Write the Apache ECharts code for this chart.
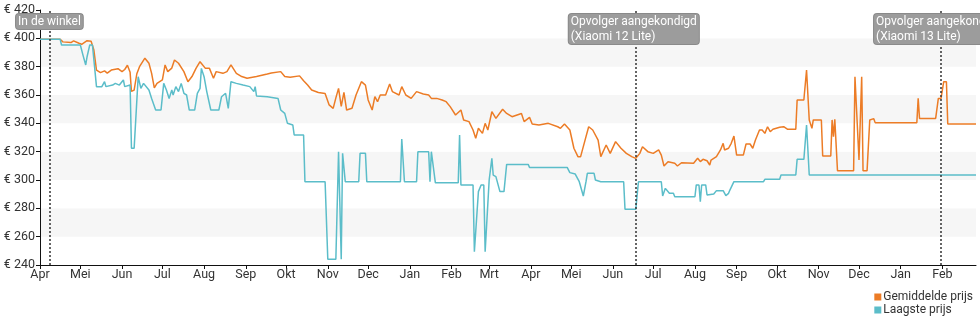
<!DOCTYPE html>
<html>
<head>
<meta charset="utf-8">
<script src="https://cdn.jsdelivr.net/npm/echarts@6/dist/echarts.min.js"></script>
<style>
  html, body { margin: 0; padding: 0; background: #fff; }
  #chart { width: 980px; height: 325px; }
</style>
</head>
<body>
<div id="chart"></div>
<script>
// Dutch month abbreviations for the date axis
const monthNames = ['Jan', 'Feb', 'Mrt', 'Apr', 'Mei', 'Jun', 'Jul', 'Aug', 'Sep', 'Okt', 'Nov', 'Dec'];

const axisStart = '2021-04-01';
const axisEnd = '2023-02-26';
const priceMin = 240;
const priceMax = 420;
const priceStep = 20;

const seriesNames = ['Gemiddelde prijs', 'Laagste prijs'];

// Average price per day (EUR)
const avgPrice = [
  ['2021-04-01', 399.3], ['2021-04-16', 399.3], ['2021-04-18', 397.5], ['2021-04-24', 397],
  ['2021-04-26', 398.2], ['2021-04-30', 396.5], ['2021-05-02', 395.8], ['2021-05-06', 398.3],
  ['2021-05-09', 398], ['2021-05-11', 392], ['2021-05-13', 377.6], ['2021-05-16', 375.8],
  ['2021-05-19', 377], ['2021-05-21', 375.5], ['2021-05-24', 377.6], ['2021-05-29', 378.6],
  ['2021-06-01', 376.5], ['2021-06-03', 378], ['2021-06-05', 381], ['2021-06-07', 376],
  ['2021-06-08', 362.5], ['2021-06-10', 363.5], ['2021-06-12', 375], ['2021-06-14', 380],
  ['2021-06-18', 386], ['2021-06-21', 382.4], ['2021-06-23', 375.3], ['2021-06-25', 365],
  ['2021-06-27', 368.2], ['2021-07-01', 370.6], ['2021-07-03', 381.2], ['2021-07-05', 376.5],
  ['2021-07-08', 379], ['2021-07-10', 384.7], ['2021-07-13', 382.4], ['2021-07-17', 376.5],
  ['2021-07-20', 369.4], ['2021-07-23', 373], ['2021-07-26', 378.8], ['2021-07-29', 383.5],
  ['2021-08-02', 378.8], ['2021-08-05', 378.8], ['2021-08-08', 371.8], ['2021-08-10', 376.5],
  ['2021-08-15', 375.3], ['2021-08-18', 376.5], ['2021-08-21', 381.2], ['2021-08-25', 375.3],
  ['2021-08-29', 373], ['2021-09-02', 371.8], ['2021-09-09', 373], ['2021-09-17', 374.8],
  ['2021-09-20', 375.5], ['2021-09-27', 376.5], ['2021-09-30', 373], ['2021-10-04', 372.5],
  ['2021-10-11', 373.5], ['2021-10-14', 370], ['2021-10-17', 367], ['2021-10-20', 363.5],
  ['2021-10-25', 361.8], ['2021-10-30', 361], ['2021-11-02', 353], ['2021-11-05', 350.6],
  ['2021-11-07', 358], ['2021-11-09', 364.7], ['2021-11-11', 352], ['2021-11-13', 361.8],
  ['2021-11-15', 349.4], ['2021-11-19', 350.6], ['2021-11-22', 360], ['2021-11-26', 369.4],
  ['2021-11-29', 367], ['2021-12-01', 356.5], ['2021-12-04', 349.4], ['2021-12-06', 358.8],
  ['2021-12-08', 355.3], ['2021-12-10', 360], ['2021-12-14', 360], ['2021-12-17', 367.8],
  ['2021-12-19', 362.4], ['2021-12-24', 360], ['2021-12-26', 365.9], ['2021-12-29', 360],
  ['2022-01-02', 357.6], ['2022-01-06', 362.4], ['2022-01-11', 360.7], ['2022-01-15', 360],
  ['2022-01-17', 357.6], ['2022-01-21', 357.6], ['2022-01-25', 356.5], ['2022-01-28', 355.3],
  ['2022-01-31', 351.8], ['2022-02-04', 345.9], ['2022-02-08', 349.4], ['2022-02-10', 342.4],
  ['2022-02-14', 341.2], ['2022-02-17', 335.3], ['2022-02-19', 329.4], ['2022-02-21', 336.5],
  ['2022-02-24', 332.9], ['2022-02-26', 340], ['2022-02-28', 335.3], ['2022-03-03', 348.2],
  ['2022-03-06', 343.5], ['2022-03-11', 349.9], ['2022-03-14', 347], ['2022-03-18', 344.7],
  ['2022-03-25', 347], ['2022-03-27', 341.2], ['2022-03-31', 344.2], ['2022-04-02', 339.5],
  ['2022-04-07', 338.8], ['2022-04-14', 340], ['2022-04-21', 337.6], ['2022-04-23', 336.5],
  ['2022-04-26', 339.5], ['2022-04-30', 335.3], ['2022-05-03', 322.4], ['2022-05-06', 316.5],
  ['2022-05-08', 316.5], ['2022-05-12', 330.6], ['2022-05-14', 337.6], ['2022-05-17', 335.3],
  ['2022-05-21', 328.2], ['2022-05-23', 316.5], ['2022-05-27', 324.7], ['2022-05-30', 318.8],
  ['2022-06-03', 327.1], ['2022-06-07', 322.4], ['2022-06-11', 318.8], ['2022-06-15', 316.5],
  ['2022-06-18', 315.3], ['2022-06-21', 318.8], ['2022-06-23', 323.5], ['2022-06-27', 320],
  ['2022-07-01', 318.8], ['2022-07-05', 321.2], ['2022-07-07', 317.6], ['2022-07-09', 309.9],
  ['2022-07-12', 312.9], ['2022-07-17', 311.8], ['2022-07-19', 309.9], ['2022-07-22', 312.2],
  ['2022-07-31', 311.8], ['2022-08-03', 315.3], ['2022-08-05', 313], ['2022-08-07', 314.6],
  ['2022-08-10', 313.6], ['2022-08-12', 310.6], ['2022-08-13', 314.1], ['2022-08-17', 316.5],
  ['2022-08-20', 321.2], ['2022-08-22', 325.9], ['2022-08-23', 321.2], ['2022-08-26', 322.4],
  ['2022-08-28', 325.9], ['2022-08-30', 331], ['2022-09-01', 317.6], ['2022-09-06', 317.6],
  ['2022-09-08', 325.4], ['2022-09-11', 325.4], ['2022-09-13', 322.4], ['2022-09-15', 328.2],
  ['2022-09-18', 335.3], ['2022-09-20', 335.3], ['2022-09-22', 332.9], ['2022-09-24', 337.6],
  ['2022-09-26', 334.1], ['2022-09-28', 335.8], ['2022-10-03', 337.2], ['2022-10-06', 337.6],
  ['2022-10-09', 335.8], ['2022-10-15', 335.8], ['2022-10-16', 356.5], ['2022-10-21', 356.5],
  ['2022-10-23', 377.6], ['2022-10-24', 377.6], ['2022-10-25', 342.4], ['2022-10-27', 336.5],
  ['2022-10-28', 342.4], ['2022-11-03', 342.4], ['2022-11-04', 317], ['2022-11-10', 317],
  ['2022-11-11', 342.4], ['2022-11-12', 330.6], ['2022-11-13', 342.8], ['2022-11-15', 306.6],
  ['2022-11-27', 306.6], ['2022-11-28', 372.9], ['2022-11-29', 372.9], ['2022-12-01', 314.1],
  ['2022-12-02', 314.1], ['2022-12-03', 372.9], ['2022-12-04', 306.6], ['2022-12-07', 306.6],
  ['2022-12-09', 342.4], ['2022-12-12', 343.3], ['2022-12-13', 340.5], ['2023-01-13', 340.5],
  ['2023-01-14', 357.6], ['2023-01-15', 343.5], ['2023-01-27', 343.5], ['2023-01-29', 357.6],
  ['2023-01-31', 357.6], ['2023-02-02', 369.4], ['2023-02-04', 369.4], ['2023-02-05', 339.5],
  ['2023-02-26', 339.5]
];

// Lowest price per day (EUR)
const lowPrice = [
  ['2021-04-01', 399.3], ['2021-04-16', 399.3], ['2021-04-17', 395.3], ['2021-05-01', 395.3],
  ['2021-05-03', 388], ['2021-05-05', 381.2], ['2021-05-06', 387], ['2021-05-08', 395.3],
  ['2021-05-10', 395.3], ['2021-05-13', 365.9], ['2021-05-17', 365.9], ['2021-05-19', 369.4],
  ['2021-05-20', 365.9], ['2021-05-25', 367], ['2021-05-27', 368.2], ['2021-05-30', 367],
  ['2021-06-02', 370.6], ['2021-06-03', 365.9], ['2021-06-07', 367], ['2021-06-08', 322.4],
  ['2021-06-10', 322.4], ['2021-06-13', 372.9], ['2021-06-15', 364.7], ['2021-06-17', 368.2],
  ['2021-06-21', 363.5], ['2021-06-23', 357.6], ['2021-06-26', 349.4], ['2021-06-30', 349.4],
  ['2021-07-02', 368.2], ['2021-07-04', 363.5], ['2021-07-06', 357.6], ['2021-07-08', 363.5],
  ['2021-07-09', 360], ['2021-07-11', 365.9], ['2021-07-13', 362.4], ['2021-07-15', 368.2],
  ['2021-07-17', 361.2], ['2021-07-19', 360], ['2021-07-21', 349.4], ['2021-07-25', 349.4],
  ['2021-07-27', 361.2], ['2021-07-29', 364.7], ['2021-07-30', 378.8], ['2021-08-01', 372.9],
  ['2021-08-03', 362.4], ['2021-08-06', 349.4], ['2021-08-12', 349.4], ['2021-08-14', 358.8],
  ['2021-08-17', 361.2], ['2021-08-19', 350.6], ['2021-08-21', 369.4], ['2021-08-25', 368.2],
  ['2021-08-30', 367], ['2021-09-04', 365.9], ['2021-09-07', 362.4], ['2021-09-08', 365.9],
  ['2021-09-09', 359.3], ['2021-09-17', 358.8], ['2021-09-25', 357.6], ['2021-09-27', 349.4],
  ['2021-09-30', 347], ['2021-10-02', 340], ['2021-10-06', 338.8], ['2021-10-07', 331.8],
  ['2021-10-14', 331.8], ['2021-10-15', 298.8], ['2021-10-30', 298.8], ['2021-11-01', 244],
  ['2021-11-07', 244], ['2021-11-09', 320], ['2021-11-10', 320], ['2021-11-11', 244],
  ['2021-11-12', 318.8], ['2021-11-13', 318.8], ['2021-11-14', 298.8], ['2021-11-24', 298.8],
  ['2021-11-25', 318.8], ['2021-11-29', 318.8], ['2021-11-30', 298.8], ['2021-12-25', 298.8],
  ['2021-12-26', 328.9], ['2021-12-27', 328.9], ['2021-12-28', 298.8], ['2022-01-06', 298.8],
  ['2022-01-07', 320], ['2022-01-15', 320], ['2022-01-16', 298.8], ['2022-01-17', 320],
  ['2022-01-18', 320], ['2022-01-20', 298], ['2022-02-06', 298], ['2022-02-07', 331.8],
  ['2022-02-08', 296.5], ['2022-02-17', 296.5], ['2022-02-18', 249.4], ['2022-02-19', 249.4],
  ['2022-02-21', 291.8], ['2022-02-23', 296.5], ['2022-02-25', 296.5], ['2022-02-26', 249.4],
  ['2022-02-27', 249.4], ['2022-03-01', 300], ['2022-03-03', 315.3], ['2022-03-04', 303.5],
  ['2022-03-06', 302.4], ['2022-03-09', 291.8], ['2022-03-12', 291.8], ['2022-03-14', 311],
  ['2022-03-30', 311], ['2022-03-31', 308.9], ['2022-04-28', 308.9], ['2022-04-30', 305.2],
  ['2022-05-04', 304.2], ['2022-05-07', 298.8], ['2022-05-10', 288.7], ['2022-05-12', 298.8],
  ['2022-05-13', 304.7], ['2022-05-18', 304.7], ['2022-05-19', 300], ['2022-05-23', 298.8],
  ['2022-06-09', 298.8], ['2022-06-10', 279.3], ['2022-06-18', 279.3], ['2022-06-20', 298.8],
  ['2022-07-07', 298.8], ['2022-07-08', 288.7], ['2022-07-10', 294.1], ['2022-07-13', 290.6],
  ['2022-07-16', 290.6], ['2022-07-17', 288.2], ['2022-08-01', 288.2], ['2022-08-02', 296.5],
  ['2022-08-04', 296.5], ['2022-08-05', 284.7], ['2022-08-06', 296.5], ['2022-08-09', 296.5],
  ['2022-08-10', 289.4], ['2022-08-15', 290.1], ['2022-08-17', 292.5], ['2022-08-22', 292.5],
  ['2022-08-24', 289], ['2022-08-26', 290.6], ['2022-08-27', 292.9], ['2022-08-30', 298.8],
  ['2022-09-21', 298.8], ['2022-09-22', 300.5], ['2022-10-03', 300.5], ['2022-10-04', 303.5],
  ['2022-10-15', 303.5], ['2022-10-16', 314.6], ['2022-10-21', 314.6], ['2022-10-23', 338.8],
  ['2022-10-24', 338.8], ['2022-10-25', 303.5], ['2023-02-26', 303.5]
];

// Milestones marked with a dotted vertical line
const eventDates = ['2021-04-08', '2022-06-18', '2023-01-31'];
const eventLabels = [
  'In de winkel',
  'Opvolger aangekondigd\n(Xiaomi 12 Lite)',
  'Opvolger aangekondigd\n(Xiaomi 13 Lite)'
];

// Dates are plotted as local-midnight timestamps on a numeric axis
const toTime = (s) => new Date(s + 'T00:00:00').getTime();

// First day of every month inside the axis range
function monthStarts(from, to) {
  const a = new Date(from + 'T00:00:00');
  const b = new Date(to + 'T00:00:00');
  const out = [];
  let d = new Date(a.getFullYear(), a.getMonth(), 1);
  if (d < a) d = new Date(a.getFullYear(), a.getMonth() + 1, 1);
  while (d <= b) {
    out.push(d.getTime());
    d = new Date(d.getFullYear(), d.getMonth() + 1, 1);
  }
  return out;
}
const monthTicks = monthStarts(axisStart, axisEnd);

const toSeries = (rows) => rows.map(([date, price]) => [toTime(date), price]);

const chart = echarts.init(document.getElementById('chart'), null, { renderer: 'canvas' });

const markData = eventDates.map((date, i) => {
  const multiLine = eventLabels[i].indexOf('\n') >= 0;
  return {
    xAxis: toTime(date),
    name: eventLabels[i],
    label: multiLine ? { align: 'left', offset: [-67, 0] } : { align: 'center' }
  };
});

chart.setOption({
  animation: false,
  textStyle: { fontFamily: 'Roboto, sans-serif' },
  grid: { left: 40, right: 4, top: 10, bottom: 60 },
  legend: {
    orient: 'vertical',
    right: 7,
    top: 291,
    padding: 0,
    itemGap: 1,
    itemWidth: 7,
    itemHeight: 7,
    icon: 'rect',
    textStyle: { fontSize: 12, color: '#333', padding: [0, 0, 0, -3] },
    data: seriesNames
  },
  xAxis: {
    type: 'value',
    min: toTime(axisStart),
    max: toTime(axisEnd),
    axisLine: { show: true, onZero: false, lineStyle: { color: '#111', width: 1 } },
    axisTick: { show: true, length: 4, lineStyle: { color: '#111' }, customValues: monthTicks },
    axisLabel: {
      customValues: monthTicks,
      color: '#333',
      fontSize: 12.5,
      margin: 3,
      formatter: (v) => monthNames[new Date(v).getMonth()]
    },
    splitLine: { show: false }
  },
  yAxis: {
    type: 'value',
    min: priceMin,
    max: priceMax,
    interval: priceStep,
    axisLine: { show: true, lineStyle: { color: '#111', width: 1 } },
    axisTick: { show: true, length: 4, lineStyle: { color: '#111' } },
    axisLabel: { color: '#333', fontSize: 12.5, margin: 5, formatter: '€ {value}' },
    splitLine: { show: false },
    splitArea: { show: true, areaStyle: { color: ['#ffffff', '#f6f6f6'] } }
  },
  series: [
    {
      name: seriesNames[0],
      type: 'line',
      data: toSeries(avgPrice),
      showSymbol: false,
      symbol: 'none',
      color: '#ec7c26',
      lineStyle: { width: 1.5, color: '#ec7c26' },
      markLine: {
        silent: true,
        symbol: ['none', 'none'],
        lineStyle: { color: '#333', type: [2, 2], width: 1.5 },
        label: {
          show: true,
          position: 'end',
          verticalAlign: 'top',
          distance: -4,
          formatter: (p) => p.name,
          color: '#fff',
          fontSize: 12,
          lineHeight: 15,
          backgroundColor: '#9c9c9c',
          borderColor: '#8a8a8a',
          borderWidth: 1,
          borderRadius: 3,
          padding: [0, 2, 0, 2]
        },
        data: markData
      }
    },
    {
      name: seriesNames[1],
      type: 'line',
      data: toSeries(lowPrice),
      showSymbol: false,
      symbol: 'none',
      color: '#5bbdc9',
      lineStyle: { width: 1.5, color: '#5bbdc9' }
    }
  ]
});
</script>
</body>
</html>
